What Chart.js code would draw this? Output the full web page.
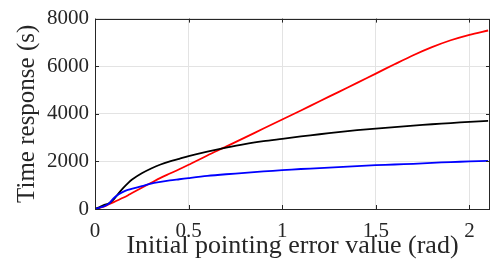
<!DOCTYPE html>
<html>
<head>
<meta charset="utf-8">
<script src="https://cdn.jsdelivr.net/npm/chart.js@4"></script>
<style>
  body { margin: 0; background: #fff; }
  #wrap { width: 492px; height: 262px; position: relative; }
</style>
</head>
<body>
<div id="wrap"><canvas id="chart"></canvas></div>
<script>
// Valeurs
const angles = [0, 0.025, 0.05, 0.075, 0.1, 0.125, 0.15, 0.175, 0.2, 0.25, 0.3, 0.35, 0.4, 0.45, 0.5,
  0.6, 0.7, 0.8, 0.9, 1.0, 1.1, 1.2, 1.3, 1.4, 1.5, 1.6, 1.7, 1.8, 1.9, 2.0, 2.1];
const redTimes = [0, 50, 110, 200, 290, 380, 470, 570, 680, 890, 1100, 1310, 1490, 1670, 1860,
  2250, 2620, 3000, 3380, 3760, 4140, 4530, 4910, 5300, 5690, 6080, 6460, 6800, 7090, 7320, 7500];
const blackTimes = [0, 80, 170, 240, 400, 650, 880, 1080, 1250, 1500, 1700, 1870, 2000, 2110, 2220,
  2410, 2580, 2730, 2850, 2950, 3050, 3140, 3230, 3310, 3380, 3440, 3500, 3560, 3610, 3660, 3700];
const blueTimes = [0, 60, 120, 230, 460, 610, 720, 800, 860, 960, 1070, 1140, 1200, 1250, 1300,
  1390, 1460, 1520, 1580, 1630, 1680, 1720, 1760, 1800, 1840, 1870, 1900, 1940, 1970, 2000, 2020];
const xTicks = [0, 0.5, 1, 1.5, 2];
const yTicks = [0, 2000, 4000, 6000, 8000];

const axisColor = '#262626';
const fontFamily = '"Liberation Serif", "DejaVu Serif", serif';

function toPoints(ys) {
    return angles.map((a, i) => ({ x: a, y: ys[i] }));
}

function serie(ys, color) {
    return {
        data: toPoints(ys),
        borderColor: color,
        backgroundColor: color,
        borderWidth: 1.8,
        pointRadius: 0,
        tension: 0.3,
        fill: false
    };
}

// cadre style Matlab avec graduations vers l'intérieur
const boxPlugin = {
    id: 'boxPlugin',
    afterDraw(chart) {
        const { ctx, chartArea: a, scales } = chart;
        ctx.save();
        ctx.strokeStyle = axisColor;
        ctx.lineWidth = 1;
        ctx.strokeRect(Math.round(a.left) + 0.5, Math.round(a.top) + 0.5,
            Math.round(a.right - a.left) - 1, Math.round(a.bottom - a.top));
        ctx.beginPath();
        xTicks.forEach(v => {
            const px = Math.round(scales.x.getPixelForValue(v)) + 0.5;
            ctx.moveTo(px, a.bottom); ctx.lineTo(px, a.bottom - 4);
            ctx.moveTo(px, a.top); ctx.lineTo(px, a.top + 4);
        });
        yTicks.forEach(v => {
            const py = Math.round(scales.y.getPixelForValue(v)) + 0.5;
            ctx.moveTo(a.left, py); ctx.lineTo(a.left + 4, py);
            ctx.moveTo(a.right, py); ctx.lineTo(a.right - 4, py);
        });
        ctx.stroke();
        ctx.restore();
    }
};

new Chart(document.getElementById('chart').getContext('2d'), {
    type: 'line',
    data: {
        datasets: [
            serie(blueTimes, '#0000ff'),
            serie(blackTimes, '#000000'),
            serie(redTimes, '#ff0000')
        ]
    },
    options: {
        responsive: true,
        maintainAspectRatio: false,
        animation: false,
        layout: { padding: { top: 16, right: 2, bottom: 0, left: 0 } },
        plugins: { legend: { display: false }, tooltip: { enabled: false } },
        scales: {
            x: {
                type: 'linear',
                min: 0,
                max: 2.11,
                afterBuildTicks: axis => { axis.ticks = xTicks.map(v => ({ value: v })); },
                afterFit: axis => { axis.height = 53; },
                grid: { color: '#e3e3e3', drawTicks: false },
                border: { display: false },
                ticks: {
                    color: axisColor,
                    padding: 10,
                    maxRotation: 0,
                    font: { family: fontFamily, size: 21 },
                    callback: v => String(v)
                },
                title: {
                    display: true,
                    text: 'Initial pointing error value (rad)',
                    color: axisColor,
                    padding: { top: -8, bottom: 0 },
                    font: { family: fontFamily, size: 26 }
                }
            },
            y: {
                min: 0,
                max: 8000,
                afterBuildTicks: axis => { axis.ticks = yTicks.map(v => ({ value: v })); },
                afterFit: axis => { axis.width = 95; },
                grid: { color: '#e3e3e3', drawTicks: false },
                border: { display: false },
                ticks: {
                    color: axisColor,
                    padding: 6,
                    font: { family: fontFamily, size: 21 },
                    callback: v => String(v)
                },
                title: {
                    display: true,
                    text: 'Time response (s)',
                    color: axisColor,
                    padding: { top: 12, bottom: 0 },
                    font: { family: fontFamily, size: 25 }
                }
            }
        }
    },
    plugins: [boxPlugin]
});
</script>
</body>
</html>
